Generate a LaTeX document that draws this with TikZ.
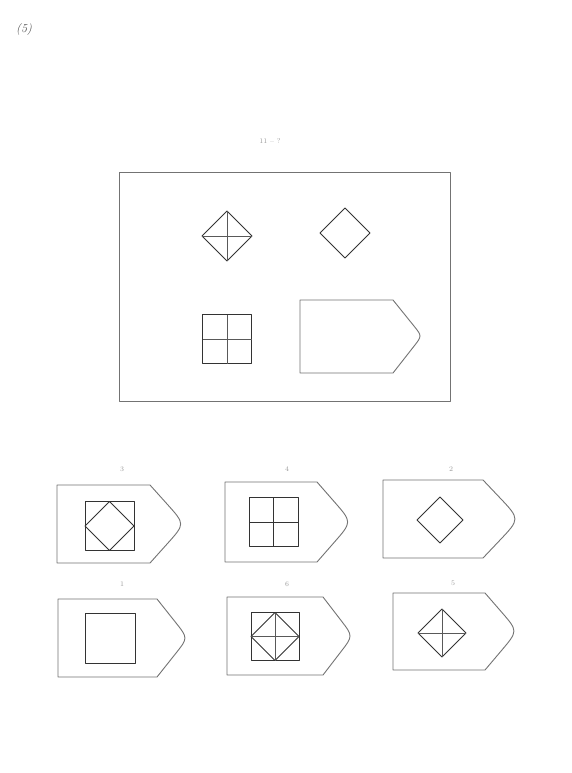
\documentclass[tikz,border=0pt]{standalone}
\usetikzlibrary{calc}
\tikzset{
  outline/.style={draw=black!55, line width=0.9pt, line join=round},
  figline/.style={draw=black!80, line width=1pt, line join=round},
  thinline/.style={draw=black!65, line width=0.7pt},
  lbl/.style={font=\scriptsize, text=black!40, inner sep=0pt},
}
% tag shape: L T C X B M, rounding fraction
\newcommand\tagshape[7]{%
  \draw[outline] (#1,#2) -- (#3,#2) -- ($(#3,#2)!#7!(#4,#6)$) .. controls (#4,#6) .. ($(#3,#5)!#7!(#4,#6)$) -- (#3,#5) -- (#1,#5) -- cycle;}
% diamond: cx cy r
\newcommand\dmd[3]{%
  \draw[figline] ({#1-#3},#2) -- (#1,{#2-#3}) -- ({#1+#3},#2) -- (#1,{#2+#3}) -- cycle;}
% cross: cx cy r
\newcommand\crs[3]{%
  \draw[thinline] ({#1-#3},#2) -- ({#1+#3},#2) (#1,{#2-#3}) -- (#1,{#2+#3});}
% square: cx cy h
\newcommand\sqr[3]{%
  \draw[figline] ({#1-#3},{#2-#3}) rectangle ({#1+#3},{#2+#3});}
\begin{document}
\begin{tikzpicture}[x=1pt,y=-1pt]
\useasboundingbox (0,0) rectangle (572,773);
\fill[white] (0,0) rectangle (572,773);

\node[font=\large\itshape, text=black!70] (num) at (24,30) {(5)};
\node[lbl] (q) at (270,141) {11 -- ?};

% main panel
\draw[outline] (119,172) rectangle (450,401);
\dmd{227}{236}{25}\crs{227}{236}{25}
\dmd{345}{233}{25}
\sqr{227}{339}{24.5}\crs{227}{339}{24.5}
\tagshape{300}{300}{393}{422}{373}{336}{0.72}

% options row 1
\node[lbl] (l3) at (122,469) {3};
\tagshape{57}{485}{150}{185}{563}{524}{0.5}
\sqr{109.5}{526}{24.5}\dmd{109.5}{526}{24.5}

\node[lbl] (l4) at (287,469) {4};
\tagshape{225}{482}{317}{352}{562}{522}{0.5}
\sqr{273.5}{522}{24.5}\draw[figline] (249,522) -- (298,522) (273.5,497.5) -- (273.5,546.5);

\node[lbl] (l2) at (451,469) {2};
\tagshape{383}{480}{483}{520}{558}{519}{0.45}
\dmd{440}{520}{23}

% options row 2
\node[lbl] (l1) at (122,584) {1};
\tagshape{58}{599}{157}{188}{677}{638}{0.6}
\sqr{110.5}{638.5}{25}

\node[lbl] (l6) at (287,584) {6};
\tagshape{227}{597}{323}{353}{675}{636}{0.6}
\sqr{275}{636.5}{24}\dmd{275}{636.5}{24}\crs{275}{636.5}{24}

\node[lbl] (l5) at (453,583) {5};
\tagshape{393}{593}{485}{518}{670}{631}{0.5}
\dmd{442}{633}{24}\crs{442}{633}{24}
\end{tikzpicture}
\end{document}
